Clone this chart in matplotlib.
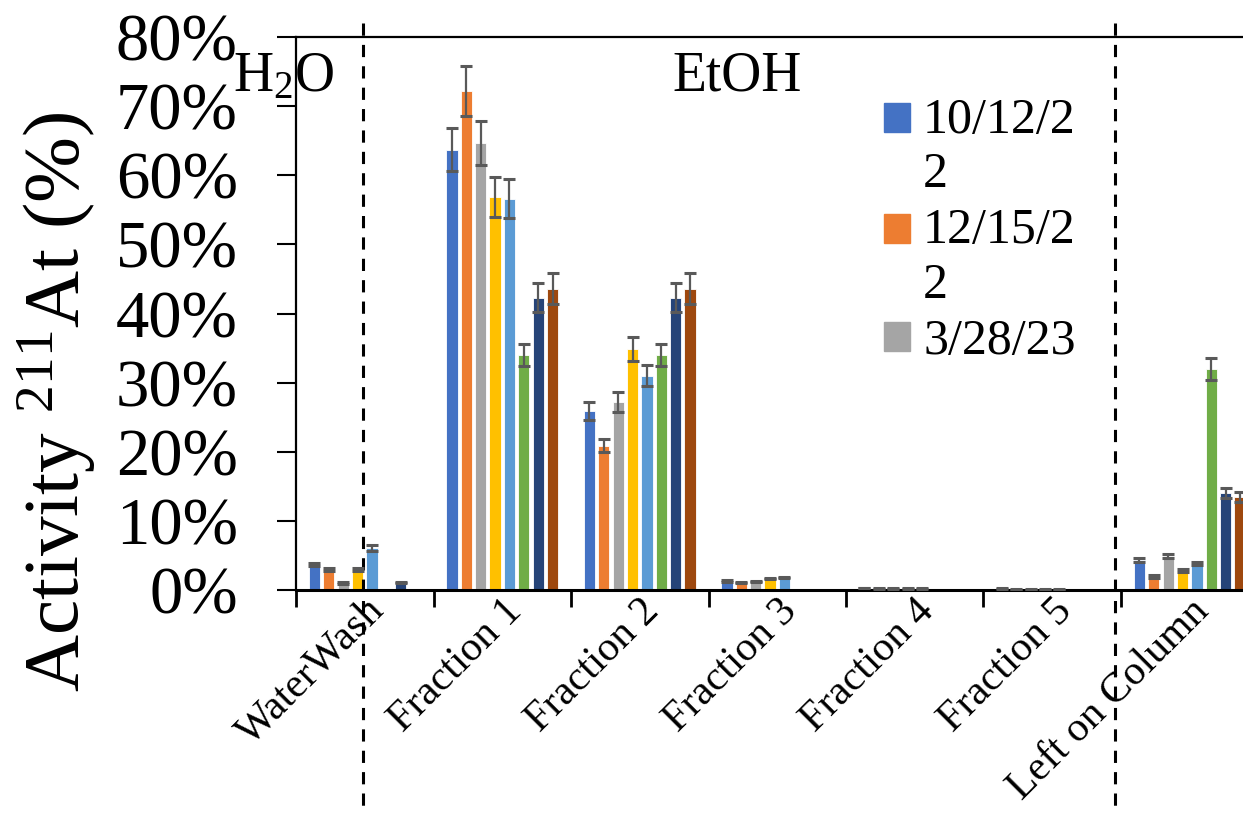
import matplotlib
matplotlib.use("Agg")
import matplotlib.pyplot as plt
import matplotlib.transforms as mtransforms
from matplotlib.lines import Line2D
from matplotlib.patches import Patch, Rectangle
from matplotlib.legend_handler import HandlerPatch
import numpy as np

plt.rcParams['font.family'] = ['Liberation Serif', 'DejaVu Serif']
plt.rcParams['mathtext.fontset'] = 'custom'
plt.rcParams['mathtext.rm'] = 'Liberation Serif'
plt.rcParams['mathtext.it'] = 'Liberation Serif:italic'

categories = ['WaterWash', 'Fraction 1', 'Fraction 2', 'Fraction 3',
              'Fraction 4', 'Fraction 5', 'Left on Column']
series = ['10/12/22', '12/15/22', '3/28/23', 's4', 's5', 's6', 's7', 's8']
colors = ['#4472C4', '#ED7D31', '#A5A5A5', '#FFC000',
          '#5B9BD5', '#70AD47', '#264478', '#9E480E']

# percent activity per series, one entry per category
vals = [
    [3.7, 63.7, 25.9, 1.3, 0.3, 0.2, 4.4],
    [3.0, 72.2, 20.9, 1.1, 0.2, 0.1, 2.0],
    [1.0, 64.7, 27.2, 1.2, 0.2, 0.1, 4.9],
    [3.0, 56.9, 34.9, 1.7, 0.2, 0.1, 2.8],
    [6.1, 56.6, 31.0, 1.8, 0.2, 0.1, 3.8],
    [0.0, 34.0, 34.0, 0.0, 0.0, 0.0, 32.0],
    [1.1, 42.3, 42.3, 0.0, 0.0, 0.0, 14.0],
    [0.0, 43.6, 43.6, 0.0, 0.0, 0.0, 13.5],
]
errs = [
    [0.2, 3.1, 1.3, 0.1, 0.05, 0.05, 0.3],
    [0.2, 3.6, 1.0, 0.1, 0.05, 0.05, 0.2],
    [0.1, 3.2, 1.4, 0.1, 0.05, 0.05, 0.3],
    [0.2, 2.9, 1.7, 0.1, 0.05, 0.05, 0.2],
    [0.4, 2.8, 1.5, 0.1, 0.05, 0.05, 0.2],
    [0.0, 1.6, 1.6, 0.0, 0.0, 0.0, 1.6],
    [0.1, 2.1, 2.1, 0.0, 0.0, 0.0, 0.7],
    [0.0, 2.2, 2.2, 0.0, 0.0, 0.0, 0.7],
]

fig = plt.figure(figsize=(12.43, 8.19), dpi=100)
ax = fig.add_axes([296 / 1243, 229 / 819, 962.5 / 1243, 553 / 819])

x = np.arange(len(categories))
pitch = 0.1047
for i in range(len(series)):
    v = np.array(vals[i])
    e = np.array(errs[i])
    xs = x + (i - 3.5) * pitch
    ax.bar(xs, v, width=0.082, color=colors[i], edgecolor='white',
           linewidth=0.6, zorder=2)
    m = v > 0
    ax.errorbar(xs[m], v[m], yerr=e[m], fmt='none', ecolor='#595959',
                elinewidth=1.6, capsize=4.5, capthick=2.2, zorder=3)

ax.set_xlim(-0.5, 6.5)
ax.set_ylim(0, 80)
ax.set_yticks(np.arange(0, 81, 10))
ax.set_yticklabels([f'{t}%' for t in range(0, 81, 10)])
ax.tick_params(axis='y', direction='out', length=14, width=1.5,
               labelsize=48, pad=28)

ax.set_xticks(x)
ax.set_xticklabels(categories, rotation=45, ha='right',
                   rotation_mode='anchor', fontsize=30)
ax.tick_params(axis='x', which='major', length=0, pad=1)
ax.set_xticks(np.arange(-0.5, 7.0, 1.0), minor=True)
ax.tick_params(axis='x', which='minor', direction='out', length=12, width=2)

for s in ['left', 'top', 'bottom']:
    ax.spines[s].set_linewidth(1.6)
ax.spines['bottom'].set_linewidth(2.2)
ax.spines['right'].set_visible(False)

ax.set_ylabel('Activity $^{211}$At (%)', fontsize=57)
ax.yaxis.set_label_coords(-0.206, 0.340)

# separators between H2O and EtOH regions
trans = mtransforms.blended_transform_factory(ax.transData, ax.transAxes)
for xv in [-0.013, 5.456]:
    ax.add_line(Line2D([xv, xv], [1.025, -0.40], transform=trans,
                       color='black', linestyle=(0, (4, 3)),
                       linewidth=2.2, clip_on=False))

ax.text(-0.065, 0.928, 'H$_2$O', transform=ax.transAxes, fontsize=40,
        ha='left', va='center')
ax.text(0.458, 0.928, 'EtOH', transform=ax.transAxes, fontsize=40,
        ha='center', va='center')


def top_line_patch(shift):
    def make(legend, orig_handle, xdescent, ydescent, width, height, fontsize):
        return Rectangle((-xdescent, -ydescent + shift * fontsize), width, height)
    return HandlerPatch(patch_func=make)


handles = [Patch(color=colors[k]) for k in range(3)]
labels = ['10/12/2\n2', '12/15/2\n2', '3/28/23']
hmap = {handles[0]: top_line_patch(0.6), handles[1]: top_line_patch(0.6)}
leg = fig.legend(handles, labels, loc='upper left',
                 bbox_to_anchor=(884 / 1243, (819 - 97) / 819),
                 frameon=False, fontsize=36, handlelength=0.52,
                 handleheight=0.52, handletextpad=0.26, labelspacing=0.2,
                 borderpad=0, borderaxespad=0, handler_map=hmap)
for t in leg.get_texts():
    t.set_linespacing(1.22)

fig.savefig('out.png', dpi=100)
